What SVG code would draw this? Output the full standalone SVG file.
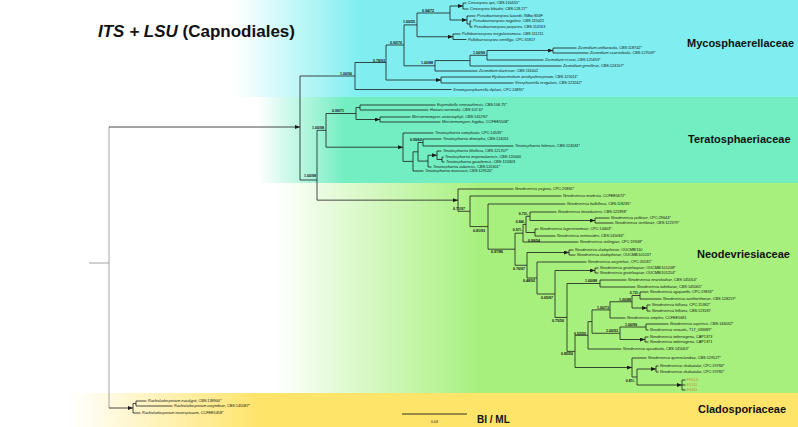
<svg xmlns="http://www.w3.org/2000/svg" width="798" height="427" viewBox="0 0 798 427">
<defs>
<linearGradient id="gMy" gradientUnits="userSpaceOnUse" x1="235" y1="0" x2="360" y2="0"><stop offset="0" stop-color="#ffffff"/><stop offset="1" stop-color="#80eef0"/></linearGradient>
<linearGradient id="gTe" gradientUnits="userSpaceOnUse" x1="258" y1="0" x2="345" y2="0"><stop offset="0" stop-color="#ffffff"/><stop offset="1" stop-color="#72eec2"/></linearGradient>
<linearGradient id="gNe" gradientUnits="userSpaceOnUse" x1="275" y1="0" x2="480" y2="0"><stop offset="0" stop-color="#ffffff"/><stop offset="1" stop-color="#a7f07e"/></linearGradient>
<linearGradient id="gCl" gradientUnits="userSpaceOnUse" x1="70" y1="0" x2="260" y2="0"><stop offset="0" stop-color="#ffffff"/><stop offset="1" stop-color="#ffe46a"/></linearGradient>
<marker id="ar" markerUnits="userSpaceOnUse" markerWidth="5" markerHeight="4" viewBox="0 0 5 4" refX="5" refY="2" orient="auto"><path d="M0,0 L5,2 L0,4 z" fill="#1a1a1a"/></marker>
</defs>
<style>
text{font-family:"Liberation Sans",Arial,sans-serif;fill:#111}
.t{font-size:3.8px}
.i{font-style:italic}
.b{font-size:3.6px;font-weight:bold}
.fam{font-size:11px;font-weight:bold}
.ln{fill:none;stroke:#1c1c1c;stroke-width:0.8}
.gr{fill:none;stroke:#9a9a9a;stroke-width:0.9}
.f{fill:#c98a2e}
</style>
<rect x="0" y="0" width="798" height="427" fill="#ffffff"/>
<rect x="0" y="0" width="798" height="97" fill="url(#gMy)"/>
<rect x="0" y="97" width="798" height="86" fill="url(#gTe)"/>
<rect x="0" y="183" width="798" height="210" fill="url(#gNe)"/>
<rect x="0" y="393" width="798" height="34" fill="url(#gCl)"/>

<g id="title"><text x="98" y="37" style="font-size:17px;font-weight:bold"><tspan class="i">ITS + LSU</tspan> (Capnodiales)</text></g>
<g id="fam-myco"><text class="fam" x="687" y="47">Mycosphaerellaceae</text></g>
<g id="fam-tera"><text class="fam" x="688" y="143">Teratosphaeriaceae</text></g>
<g id="fam-neo"><text class="fam" x="697" y="258">Neodevriesiaceae</text></g>
<g id="fam-clado"><text class="fam" x="698" y="413">Cladosporiaceae</text></g>

<g id="connectors">
<path class="gr" d="M89 263 H109 M109 127 V408"/>
<path class="ln" d="M109 127 H300" marker-end="url(#ar)"/>
<path class="ln" d="M109 408 H133" marker-end="url(#ar)"/>
<path class="ln" d="M133 403.5 V413 M133 403.5 H136 M133 413 H140.5 M136 401 V406 M136 401 H146.5 M136 406 H172.5"/>
<path class="ln" d="M300 76 V180 M300 76 H355 M300 180 H317 M317 130.35 V200.15 M317 130.35 H326"/>
<path class="ln" d="M317 200.15 H458" marker-end="url(#ar)"/>
<!-- Mycosphaerellaceae -->
<path class="ln" d="M355 62.5 V89.5 M355 62.5 H386 M355 89.5 H451.5 M386 45 V80 M386 45 H404 M404 24.9 V65.8 M404 24.9 H417 M404 65.8 H435 M417 13 V36.75 M417 13 H450 M450 6 V20"/>
<path class="ln" d="M386 80 H441" marker-end="url(#ar)"/>
<path class="ln" d="M441 77 V83 M441 77 H491 M441 83 H513.5"/>
<path class="ln" d="M417 36.75 H453" marker-end="url(#ar)"/>
<path class="ln" d="M453 34 V39.5 M453 34 H460.5 M453 39.5 H466.5"/>
<path class="ln" d="M450 6 H463" marker-end="url(#ar)"/>
<path class="ln" d="M463 3 V9 M463 3 H466.5 M463 9 H468.5"/>
<path class="ln" d="M450 20 H467" marker-end="url(#ar)"/>
<path class="ln" d="M467 16 V24 M467 16 H475.5 M467 24 H470 M470 21 V27 M470 21 H471.5 M470 27 H472.5"/>
<path class="ln" d="M435 60.6 V71 M435 60.6 H470 M435 71 H477.5 M470 55.25 V66 M470 55.25 H487 M470 66 H561.5 M487 50.5 V60 M487 60 H543.5"/>
<path class="ln" d="M487 50.5 H553" marker-end="url(#ar)"/>
<path class="ln" d="M553 48 V53 M553 48 H576.5 M553 53 H588.5"/>
<!-- Teratosphaeriaceae -->
<path class="ln" d="M326 113.5 V147.2 M326 113.5 H356 M356 107.5 V119.5 M356 107.5 H360 M360 105 V110 M360 105 H435.5 M360 110 H428.5"/>
<path class="ln" d="M356 119.5 H380" marker-end="url(#ar)"/>
<path class="ln" d="M380 117 V122 M380 117 H410.5 M380 122 H440.5"/>
<path class="ln" d="M326 147.2 H403" marker-end="url(#ar)"/>
<path class="ln" d="M403 133 V161.4 M403 133 H433.5 M403 161.4 H413 M413 151.8 V171 M413 151.8 H418 M413 171 H423.5 M418 142.5 V161.1 M418 142.5 H423 M418 161.1 H428 M423 139 V146 M423 139 H441.5 M423 146 H513.5 M428 155.25 V167 M428 167 H431.5"/>
<path class="ln" d="M428 155.25 H437" marker-end="url(#ar)"/>
<path class="ln" d="M437 151 V159.5 M437 151 H441.5 M437 159.5 H442 M442 157 V162 M442 157 H443.5 M442 162 H444.5"/>
<!-- Neodevriesiaceae -->
<path class="ln" d="M458 189 V211.3 M458 189 H513.5 M458 211.3 H470 M470 196 V226.6 M470 196 H561.5 M470 226.6 H488 M488 204 V249.2 M488 204 H565.5 M488 249.2 H515 M515 233.2 V265.25 M515 233.2 H523 M515 265.25 H527 M523 224.4 V242 M523 224.4 H526 M523 242 H578.5 M526 216.25 V232.5 M526 216.25 H530 M526 232.5 H535 M530 212 V220.5 M530 212 H556.5 M535 229 V236 M535 229 H538.5 M535 236 H555.5"/>
<path class="ln" d="M530 220.5 H595" marker-end="url(#ar)"/>
<path class="ln" d="M595 218 V223 M595 218 H609.5 M595 223 H613.5"/>
<path class="ln" d="M527 252.5 V278 M527 278 H537 M537 262 V294 M537 262 H586.5 M537 294 H555 M555 270.5 V317.45 M555 317.45 H567 M567 283.5 V351.4 M567 283.5 H600 M567 351.4 H575 M575 335.3 V367.5 M575 335.3 H588 M588 321.6 V349 M588 321.6 H592 M588 349 H621.5 M592 309.9 V333.25 M592 309.9 H610 M592 333.25 H620"/>
<path class="ln" d="M527 252.5 H569" marker-end="url(#ar)"/>
<path class="ln" d="M569 250 V255 M569 250 H573.5 M569 255 H575.5"/>
<path class="ln" d="M555 270.5 H595" marker-end="url(#ar)"/>
<path class="ln" d="M595 268 V273 M595 268 H598.5 M595 273 H598.5"/>
<path class="ln" d="M600 280 V287 M600 280 H626.5 M600 287 H635.5"/>
<path class="ln" d="M610 301.75 V318 M610 301.75 H632 M610 318 H625.5 M632 295.5 V308 M632 295.5 H640 M640 292 V299 M640 292 H648.5 M640 299 H661.5"/>
<path class="ln" d="M632 308 H647" marker-end="url(#ar)"/>
<path class="ln" d="M647 305 V311 M647 305 H650.5 M647 311 H650.5"/>
<path class="ln" d="M620 327 V339.5 M620 327 H646 M646 324 V330 M646 324 H668.5 M646 330 H648.5"/>
<path class="ln" d="M620 339.5 H645" marker-end="url(#ar)"/>
<path class="ln" d="M645 337 V342 M645 337 H648.5 M645 342 H648.5"/>
<path class="ln" d="M575 367.5 H632" marker-end="url(#ar)"/>
<path class="ln" d="M632 358 V377 M632 358 H646.5 M632 377 H637 M637 369 V385"/>
<path class="ln" d="M637 369 H656" marker-end="url(#ar)"/>
<path class="ln" d="M656 366 V372 M656 366 H658.5 M656 372 H658.5"/>
<path class="ln" d="M637 385 H682" marker-end="url(#ar)"/>
<path class="ln" d="M682 380 V390 M682 380 H685.5 M682 385 H685.5 M682 390 H685.5"/>
<path class="ln" d="M402 414 H467" style="stroke-width:0.9"/>
</g>

<g id="supports">
<text class="b" x="352" y="74.5" text-anchor="end">1.00/96</text>
<text class="b" x="385" y="61.5" text-anchor="end">0.78/93</text>
<text class="b" x="402" y="43.5" text-anchor="end">0.92/70</text>
<text class="b" x="415" y="23.3" text-anchor="end">1.00/55</text>
<text class="b" x="434" y="11.5" text-anchor="end">0.94/72</text>
<text class="b" x="433" y="64.3" text-anchor="end">1.00/88</text>
<text class="b" x="485" y="53.5" text-anchor="end">1.00/99</text>
<text class="b" x="344" y="112.3" text-anchor="end">0.99/71</text>
<text class="b" x="324" y="129" text-anchor="end">1.00/98</text>
<text class="b" x="316" y="176.5" text-anchor="end">1.00/98</text>
<text class="b" x="422" y="141" text-anchor="end">0.99/62</text>
<text class="b" x="465" y="210" text-anchor="end">0.71/97</text>
<text class="b" x="485" y="232" text-anchor="end">0.81/93</text>
<text class="b" x="503" y="253" text-anchor="end">0.97/86</text>
<text class="b" x="528" y="214.5" text-anchor="end">0.72/-</text>
<text class="b" x="525" y="222.5" text-anchor="end">0.84/-</text>
<text class="b" x="522" y="230.5" text-anchor="end">0.97/-</text>
<text class="b" x="528" y="242">0.99/54</text>
<text class="b" x="525" y="270" text-anchor="end">0.76/97</text>
<text class="b" x="535" y="282" text-anchor="end">0.48/92</text>
<text class="b" x="553" y="299" text-anchor="end">0.65/97</text>
<text class="b" x="597" y="282" text-anchor="end">1.00/88</text>
<text class="b" x="564" y="322" text-anchor="end">0.75/50</text>
<text class="b" x="573" y="355" text-anchor="end">0.85/50</text>
<text class="b" x="586" y="334.5" text-anchor="end">0.52/55</text>
<text class="b" x="609" y="308.5" text-anchor="end">1.00/73</text>
<text class="b" x="639" y="294" text-anchor="end">0.72/-</text>
<text class="b" x="631" y="300.5" text-anchor="end">1.00/88</text>
<text class="b" x="637" y="325.8" text-anchor="end">1.00/99</text>
<text class="b" x="618" y="332" text-anchor="end">1.00/93</text>
<text class="b" x="635" y="382" text-anchor="end">0.81/-</text>
</g>

<g id="l-capii"><text class="t" x="468" y="4.4"><tspan class="i">Cercospora apii</tspan>, CBS:116455*</text></g>
<g id="l-ckik"><text class="t" x="470" y="10.4"><tspan class="i">Cercospora kikuchii</tspan>, CBS:128.27*</text></g>
<g id="l-pluz"><text class="t" x="477" y="17.4"><tspan class="i">Pseudocercospora luzardii</tspan>, INBio:856F</text></g>
<g id="l-pnog"><text class="t" x="473" y="22.4"><tspan class="i">Pseudocercospora nogalesii</tspan>, CBS:115022</text></g>
<g id="l-ppur"><text class="t" x="474" y="28.4"><tspan class="i">Pseudocercospora purpurea</tspan>, CBS:114163</text></g>
<g id="l-pirr"><text class="t" x="462" y="35.4"><tspan class="i">Pallidocercospora irregulariramosa</tspan>, CBS:111211</text></g>
<g id="l-pver"><text class="t" x="468" y="40.9"><tspan class="i">Pallidocercospora verrilliga</tspan>, CPC:31817</text></g>
<g id="l-zant"><text class="t" x="578" y="49.4"><tspan class="i">Zasmidium anthuriicola</tspan>, CBS:118742*</text></g>
<g id="l-zsca"><text class="t" x="590" y="54.4"><tspan class="i">Zasmidium scaevolicola</tspan>, CBS:127009*</text></g>
<g id="l-zess"><text class="t" x="545" y="61.4"><tspan class="i">Zasmidium essexi</tspan>, CBS:125659*</text></g>
<g id="l-zgre"><text class="t" x="563" y="67.4"><tspan class="i">Zasmidium grevilleae</tspan>, CBS:124107*</text></g>
<g id="l-zdav"><text class="t" x="479" y="72.4"><tspan class="i">Zasmidium daviesiae</tspan>, CBS:116002</text></g>
<g id="l-hyal"><text class="t" x="492" y="78.4"><tspan class="i">Hyalozasmidium aerohyalinosporum</tspan>, CBS:125011*</text></g>
<g id="l-viro"><text class="t" x="515" y="84.4"><tspan class="i">Virosphaerella irregularis</tspan>, CBS:123242*</text></g>
<g id="l-xeno"><text class="t" x="453" y="90.9"><tspan class="i">Xenomycosphaerella diplazii</tspan>, CPC:24891*</text></g>

<g id="l-eupe"><text class="t" x="437" y="106.4"><tspan class="i">Eupenidiella venezuelensis</tspan>, CBS:106.75*</text></g>
<g id="l-hort"><text class="t" x="430" y="111.4"><tspan class="i">Hortaea werneckii</tspan>, CBS:107.67</text></g>
<g id="l-mear"><text class="t" x="412" y="118.4"><tspan class="i">Meristemomyces arctostaphyli</tspan>, CBS:141290*</text></g>
<g id="l-mefr"><text class="t" x="442" y="123.4"><tspan class="i">Meristemomyces frigidus</tspan>, CCFEE5508*</text></g>
<g id="l-tcom"><text class="t" x="435" y="134.4"><tspan class="i">Teratosphaeria complicata</tspan>, CPC:14535*</text></g>
<g id="l-tdim"><text class="t" x="443" y="140.4"><tspan class="i">Teratosphaeria dimorpha</tspan>, CBS:124051</text></g>
<g id="l-tfol"><text class="t" x="515" y="147.4"><tspan class="i">Teratosphaeria foliensis</tspan>, CBS:124581*</text></g>
<g id="l-tfib"><text class="t" x="443" y="152.4"><tspan class="i">Teratosphaeria fibrillosa</tspan>, CBS:121707*</text></g>
<g id="l-tmaj"><text class="t" x="445" y="158.4"><tspan class="i">Teratosphaeria majorizuluensis</tspan>, CBS:120040</text></g>
<g id="l-tgau"><text class="t" x="446" y="163.4"><tspan class="i">Teratosphaeria gauchensis</tspan>, CBS:120303</text></g>
<g id="l-tzul"><text class="t" x="433" y="168.4"><tspan class="i">Teratosphaeria zuluensis</tspan>, CBS:120301*</text></g>
<g id="l-tmar"><text class="t" x="425" y="172.4"><tspan class="i">Teratosphaeria marasasii</tspan>, CBS:129520*</text></g>

<g id="l-npog"><text class="t" x="515" y="190.4"><tspan class="i">Neodevriesia pogona</tspan>, CPC:25865*</text></g>
<g id="l-nmod"><text class="t" x="563" y="197.4"><tspan class="i">Neodevriesia modesta</tspan>, CCFEE5672*</text></g>
<g id="l-nbul"><text class="t" x="567" y="205.4"><tspan class="i">Neodevriesia bulbillosa</tspan>, CBS:118285*</text></g>
<g id="l-nkno"><text class="t" x="558" y="213.4"><tspan class="i">Neodevriesia knoxdaviesii</tspan>, CBS:122898*</text></g>
<g id="l-npak"><text class="t" x="611" y="219.4"><tspan class="i">Neodevriesia pakbiae</tspan>, CPC:29644*</text></g>
<g id="l-nstr"><text class="t" x="615" y="224.4"><tspan class="i">Neodevriesia strelitziae</tspan>, CBS:122379*</text></g>
<g id="l-nlag"><text class="t" x="540" y="230.4"><tspan class="i">Neodevriesia lagerstroemiae</tspan>, CPC:14403*</text></g>
<g id="l-nmet"><text class="t" x="557" y="237.4"><tspan class="i">Neodevriesia metrosideri</tspan>, CBS:145084*</text></g>
<g id="l-nsti"><text class="t" x="580" y="243.4"><tspan class="i">Neodevriesia stirlingiae</tspan>, CPC:19948*</text></g>
<g id="l-ncl1"><text class="t" x="575" y="251.4"><tspan class="i">Neodevriesia cladophorae</tspan>, OUCMBI110</text></g>
<g id="l-ncl2"><text class="t" x="577" y="256.4"><tspan class="i">Neodevriesia cladophorae</tspan>, OUCMBI101247</text></g>
<g id="l-ncor"><text class="t" x="588" y="263.4"><tspan class="i">Neodevriesia coryneliae</tspan>, CPC:20535*</text></g>
<g id="l-ngr1"><text class="t" x="600" y="269.4"><tspan class="i">Neodevriesia grateloupiae</tspan>, OUCMBI101248*</text></g>
<g id="l-ngr2"><text class="t" x="600" y="274.4"><tspan class="i">Neodevriesia grateloupiae</tspan>, OUCMBI101254*</text></g>
<g id="l-nnec"><text class="t" x="628" y="281.4"><tspan class="i">Neodevriesia necrolochae</tspan>, CBS:145054*</text></g>
<g id="l-ntab"><text class="t" x="637" y="288.4"><tspan class="i">Neodevriesia tabebuiae</tspan>, CBS:145065*</text></g>
<g id="l-naga"><text class="t" x="650" y="293.4"><tspan class="i">Neodevriesia agapanthi</tspan>, CPC:19833*</text></g>
<g id="l-nxan"><text class="t" x="663" y="300.4"><tspan class="i">Neodevriesia xanthorrhoeae</tspan>, CBS:128219*</text></g>
<g id="l-nhi1"><text class="t" x="652" y="306.4"><tspan class="i">Neodevriesia hilliana</tspan>, CPC:15382*</text></g>
<g id="l-nhi2"><text class="t" x="652" y="312.4"><tspan class="i">Neodevriesia hilliana</tspan>, CBS:123187</text></g>
<g id="l-nsim"><text class="t" x="627" y="319.4"><tspan class="i">Neodevriesia simplex</tspan>, CCFEE5681</text></g>
<g id="l-ncap"><text class="t" x="670" y="325.4"><tspan class="i">Neodevriesia capensis</tspan>, CBS:146032*</text></g>
<g id="l-nsex"><text class="t" x="650" y="331.4"><tspan class="i">Neodevriesia sexualis</tspan>, T17_033689*</text></g>
<g id="l-nim1"><text class="t" x="650" y="338.4"><tspan class="i">Neodevriesia imbrexigena</tspan>, CAP1373</text></g>
<g id="l-nim2"><text class="t" x="650" y="343.4"><tspan class="i">Neodevriesia imbrexigena</tspan>, CAP1371</text></g>
<g id="l-ncyc"><text class="t" x="623" y="350.4"><tspan class="i">Neodevriesia cycadicola</tspan>, CBS:145063*</text></g>
<g id="l-nque"><text class="t" x="648" y="359.4"><tspan class="i">Neodevriesia queenslandica</tspan>, CBS:129527*</text></g>
<g id="l-nsh1"><text class="t" x="660" y="367.4"><tspan class="i">Neodevriesia shakazului</tspan>, CPC:19784*</text></g>
<g id="l-nsh2"><text class="t" x="660" y="373.4"><tspan class="i">Neodevriesia shakazului</tspan>, CPC:19782*</text></g>
<g id="l-f0613"><text class="t f" x="687" y="381.4">F0613</text></g>
<g id="l-f1511"><text class="t f" x="687" y="386.4">F1511</text></g>
<g id="l-f0811"><text class="t f" x="687" y="391.4">F0811</text></g>

<g id="l-reuc"><text class="t" x="148" y="402.4"><tspan class="i">Rachicladosporium eucalypti</tspan>, CBS:138900*</text></g>
<g id="l-rcor"><text class="t" x="174" y="407.4"><tspan class="i">Rachicladosporium corymbiae</tspan>, CBS:145087*</text></g>
<g id="l-rinc"><text class="t" x="142" y="414.4"><tspan class="i">Rachicladosporium inconspicuum</tspan>, CCFEE5458*</text></g>

<g id="scale"><text x="434.5" y="423" text-anchor="middle" style="font-size:3.5px">0.03</text>
<text x="477" y="423" style="font-size:10px;font-weight:bold">BI / ML</text></g>
</svg>
